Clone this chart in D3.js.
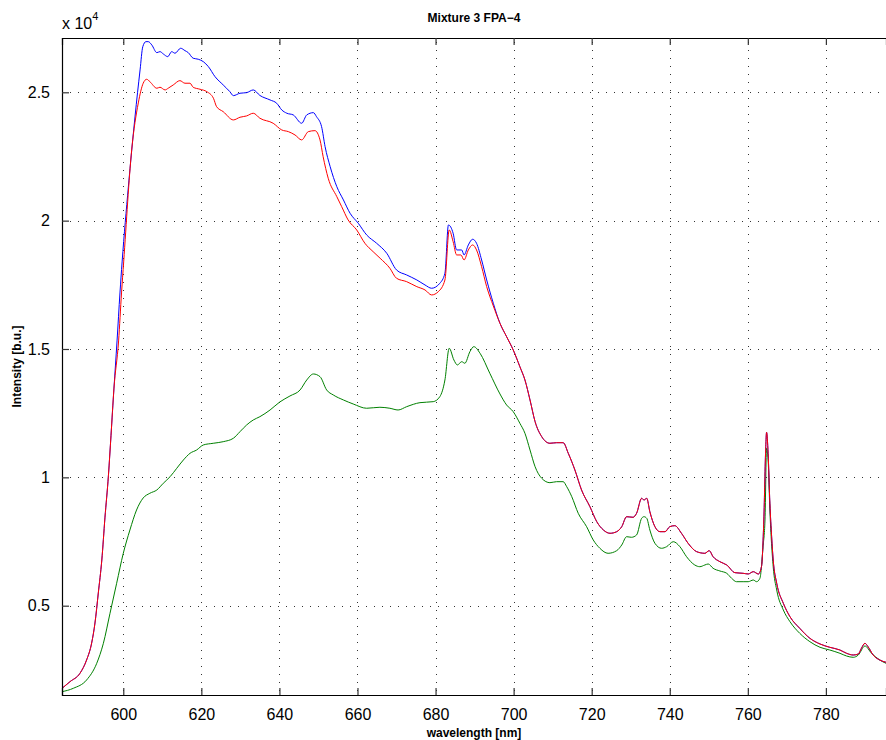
<!DOCTYPE html>
<html>
<head>
<meta charset="utf-8">
<script src="https://cdn.jsdelivr.net/npm/d3@7"></script>
<style>
  html, body { margin: 0; padding: 0; background: #fff; }
  svg { display: block; font-family: "Liberation Sans", Arial, Helvetica, sans-serif; }
</style>
</head>
<body>
<svg id="chart" width="886" height="740"></svg>
<script>
// Spectrum samples: wavelength [nm] and intensity [b.u.]
const blueNm = [584.3,586.35,588.9,590.6,591.9,592.75,593.6,594.5,595.3,596.2,596.85,597.6,598.4,599.15,599.7,601.3,603.0,604.3,605.0,605.8,606.4,607.3,608.6,609.4,610.25,611.4,612.4,613.25,614.7,615.8,616.65,617.9,619.2,620.5,621.8,623.5,625.6,627.3,628.2,629.9,631.6,633.3,635.0,637.6,639.3,640.6,641.9,643.55,645.7,647.0,648.7,649.5,650.8,651.7,653.0,654.7,656.4,658.1,660.2,662.35,664.9,667.5,670.0,672.6,675.2,677.3,679.0,681.1,682.4,683.3,684.5,685.4,686.7,687.3,688.4,689.5,690.5,691.8,693.1,694.8,696.5,698.2,699.9,701.6,702.9,704.2,705.5,707.2,709.3,711.0,712.7,714.0,715.7,717.4,719.55,721.3,723.0,724.7,726.4,727.7,728.95,730.6,731.5,732.8,733.4,734.1,734.9,736.2,737.5,738.8,740.0,741.3,743.0,744.7,746.9,749.0,750.1,751.1,752.85,754.6,756.7,758.8,760.1,761.4,762.7,763.5,764.1,764.6,764.8,765.2,765.65,766.1,766.5,767.4,769.1,770.8,773.3,775.9,778.5,781.0,783.6,785.3,787.0,788.3,789.1,790.0,790.8,792.1,793.8,795.4];
const blueCounts = [1780,2040,2366,2884,3547,4326,5495,6780,8420,10080,11620,13443,15313,17183,18391,21312,24040,25871,26779,26973,26973,26845,26545,26584,26494,26389,26584,26521,26716,26623,26545,26327,26288,26194,25999,25610,25286,25025,24870,24963,24986,25092,24877,24702,24573,24312,24184,24118,23794,24118,24207,24051,23662,22883,22103,21324,20806,20288,19898,19442,19119,18729,18079,17884,17689,17494,17366,17561,17950,19832,19509,18858,18858,18663,19053,19275,19119,18468,17689,16781,16002,15480,14962,14311,13793,13014,12169,11584,11327,11350,11350,10937,10287,9508,8857,8273,7949,7820,7883,8078,8467,8444,8600,9184,9118,9184,8662,8078,7883,7883,8078,8117,7821,7431,7104,7041,7143,6909,6714,6586,6286,6262,6235,6325,6235,6519,8339,11195,11756,10937,8989,7688,6780,5873,5093,4571,4119,3730,3508,3379,3274,3145,3079,3118,3340,3535,3403,3079,2884,2795];

// Red spectrum between 598 and 695 nm; outside that band it runs with the blue one
const redBandNm = [598.8,599.55,600.1,602.15,603.85,605.1,606.0,606.8,608.6,609.4,610.7,611.5,612.8,614.5,615.8,617.1,617.9,619.65,621.4,623.1,623.9,625.6,628.2,629.9,631.6,633.3,635.0,638.4,640.6,642.3,644.0,645.7,647.4,649.1,650.4,651.2,652.5,654.7,655.95,657.6,659.8,661.9,664.0,665.8,668.3,670.0,672.6,675.2,677.3,679.0,680.7,682.4,683.5,684.5,685.4,686.5,687.3,688.4,689.5,690.5,691.8,693.1,694.8];
const redBandCounts = [15313,17183,18391,22754,24585,25353,25508,25415,25158,25197,25092,25158,25286,25454,25353,25353,25197,25119,25025,24768,24441,24246,23923,24028,24079,24184,23989,23794,23533,23467,23338,23144,23467,23506,23144,22493,21651,20935,20545,20027,19637,19119,18792,18535,18145,17755,17623,17428,17300,17105,17233,17689,19637,19181,18663,18663,18468,18858,19053,18858,18207,17428,16676];

const greenNm = [584.3,587.2,590.6,593.2,594.9,596.6,598.3,600.0,601.7,603.4,605.1,606.8,608.6,610.25,612.0,613.7,615.4,617.1,618.8,620.5,623.05,625.6,628.2,629.9,631.6,633.3,635.0,637.6,640.1,642.7,645.3,647.0,648.7,650.4,652.1,653.8,656.4,658.9,662.35,665.75,668.3,670.4,672.6,676.0,679.4,681.1,682.4,683.5,684.7,685.6,686.7,687.5,688.8,689.8,691.4,693.9,696.5,698.2,699.9,701.6,702.9,704.2,705.5,707.2,709.3,711.0,712.7,713.6,714.9,716.55,718.7,720.4,722.1,724.2,726.4,727.7,728.95,730.2,731.5,732.8,733.4,734.1,734.9,736.2,737.9,739.2,740.9,742.6,744.3,746.4,747.7,749.0,749.85,751.1,752.85,754.6,755.85,757.1,758.8,760.1,761.4,762.25,763.1,763.9,764.4,764.8,765.2,765.65,766.5,767.4,769.1,770.8,773.3,775.9,778.5,781.0,783.6,785.3,787.0,788.3,790.0,791.7,793.8,795.4];
const greenCounts = [1650,1782,2105,2756,3535,4704,5873,7041,7949,8728,9196,9379,9508,9769,10026,10353,10676,10937,11066,11261,11327,11389,11522,11779,12040,12235,12363,12624,12936,13170,13404,13793,14027,13922,13404,13209,13014,12858,12691,12730,12691,12624,12753,12909,12948,13143,13793,15028,14572,14378,14506,14444,14896,15091,14833,14054,13248,12819,12558,12106,11717,11066,10415,9963,9792,9831,9831,9636,9247,8600,8078,7560,7236,7041,7143,7365,7688,7665,7755,8405,8467,8405,7949,7431,7236,7299,7493,7299,6909,6586,6519,6586,6625,6457,6352,6262,6067,5935,5935,5935,6001,5935,6067,7299,8339,11132,10676,8728,6519,5612,4832,4377,3924,3598,3379,3274,3145,3040,2989,3079,3430,3145,2884,2756];

const xTicks = [600, 620, 640, 660, 680, 700, 720, 740, 760, 780];
const yTicks = [5000, 10000, 15000, 20000, 25000];
const yTickLabels = ["0.5", "1", "1.5", "2", "2.5"];

const titleText = "Mixture 3 FPA\u22124";
const xLabelText = "wavelength [nm]";
const yLabelText = "Intensity [b.u.]";

(function draw() {
  // Assemble the red series from the shared blue sections plus its own band
  const redPairs = []
    .concat(blueNm.map((d, i) => [d, blueCounts[i]]).filter(p => p[0] < 598))
    .concat(redBandNm.map((d, i) => [d, redBandCounts[i]]))
    .concat(blueNm.map((d, i) => [d, blueCounts[i]]).filter(p => p[0] > 695));
  const bluePairs = blueNm.map((d, i) => [d, blueCounts[i]]);
  const greenPairs = greenNm.map((d, i) => [d, greenCounts[i]]);

  const plotLeft = 62, plotRight = 886, plotTop = 38, plotBottom = 695;
  const x = d3.scaleLinear().domain([584.3, 795.4]).range([plotLeft, plotRight]);
  const y = d3.scaleLinear().domain([1521, 27115]).range([plotBottom, plotTop]);

  const svg = d3.select("#chart");

  svg.append("defs").append("clipPath").attr("id", "plotclip")
    .append("rect").attr("x", plotLeft).attr("y", plotTop)
    .attr("width", plotRight - plotLeft).attr("height", plotBottom - plotTop);

  // dotted grid
  const grid = svg.append("g").attr("stroke", "#333").attr("stroke-width", 1)
    .attr("stroke-dasharray", "1,7").attr("fill", "none");
  xTicks.forEach(t => {
    const px = Math.round(x(t)) + 0.5;
    grid.append("line").attr("x1", px).attr("x2", px).attr("y1", plotBottom - 4).attr("y2", plotTop);
  });
  yTicks.forEach(t => {
    const py = Math.round(y(t)) + 0.5;
    grid.append("line").attr("x1", plotLeft).attr("x2", plotRight).attr("y1", py).attr("y2", py);
  });

  // spectra
  const line = d3.line().curve(d3.curveMonotoneX).x(d => x(d[0])).y(d => y(d[1]));
  const plot = svg.append("g").attr("clip-path", "url(#plotclip)").attr("fill", "none").attr("stroke-width", 1);
  plot.append("path").datum(greenPairs).attr("stroke", "#008000").attr("d", line);
  plot.append("path").datum(bluePairs).attr("stroke", "#0000ff").attr("d", line);
  plot.append("path").datum(redPairs).attr("stroke", "#ff0000").attr("d", line);

  // axes: inward ticks, box along the top
  const xAxis = d3.axisBottom(x).tickValues(xTicks).tickSize(-7).tickPadding(14).tickFormat(d3.format("d"));
  const gx = svg.append("g").attr("transform", `translate(0,${plotBottom})`).call(xAxis);
  const xAxisTop = d3.axisTop(x).tickValues(xTicks).tickSize(-7).tickFormat("");
  const gxt = svg.append("g").attr("transform", `translate(0,${plotTop})`).call(xAxisTop);
  const yAxis = d3.axisLeft(y).tickValues(yTicks).tickSize(-7).tickPadding(12)
    .tickFormat((d, i) => yTickLabels[i]);
  const gy = svg.append("g").attr("transform", `translate(${plotLeft},0)`).call(yAxis);

  [gx, gxt, gy].forEach(g => {
    g.select(".domain").attr("stroke", "#000").attr("stroke-width", 1.2);
    g.selectAll(".tick line").attr("stroke", "#333").attr("stroke-width", 1.2);
    g.selectAll(".tick text").attr("fill", "#000").attr("font-size", 16)
      .attr("font-family", "'Liberation Sans', Arial, sans-serif");
  });

  // exponent label
  const expo = svg.append("text").attr("x", 62).attr("y", 29).attr("font-size", 16).attr("fill", "#000");
  expo.append("tspan").text("x 10");
  expo.append("tspan").attr("dy", -9).attr("font-size", 11).text("4");

  // titles
  svg.append("text").attr("x", (plotLeft + plotRight) / 2).attr("y", 22).attr("text-anchor", "middle")
    .attr("font-size", 12).attr("font-weight", "bold").text(titleText);
  svg.append("text").attr("x", (plotLeft + plotRight) / 2).attr("y", 737).attr("text-anchor", "middle")
    .attr("font-size", 12).attr("font-weight", "bold").text(xLabelText);
  svg.append("text").attr("transform", `translate(21,${(plotTop + plotBottom) / 2}) rotate(-90)`)
    .attr("text-anchor", "middle").attr("font-size", 12).attr("font-weight", "bold").text(yLabelText);
})();
</script>
</body>
</html>
